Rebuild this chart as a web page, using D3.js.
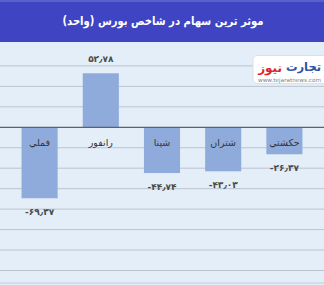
<!DOCTYPE html>
<html lang="fa">
<head>
<meta charset="utf-8">
<script src="https://cdn.jsdelivr.net/npm/d3@7"></script>
<style>
  html, body { margin: 0; padding: 0; background: #e4eef8; }
  svg { display: block; }
  text { font-family: "DejaVu Sans", "Noto Sans", sans-serif; }
</style>
</head>
<body>
<svg id="chart" width="324" height="285"></svg>
<script>
// Stocks (right to left) and their index impact, in units
const categories = ["حکشتي", "شتران", "شپنا", "رانفور", "فملي"];
const values = [-26.37, -43.03, -44.74, 52.78, -69.37];
const gridTicks = [-140, -120, -100, -80, -60, -40, -20, 0, 20, 40, 60];
const title = "موثر ترین سهام در شاخص بورس (واحد)";

const W = 324, H = 285;
const svg = d3.select("#chart");

// Persian digits with the Arabic decimal separator
const faDigits = "۰۱۲۳۴۵۶۷۸۹";
const toFa = v => v.toFixed(2).replace(/\d/g, d => faDigits[+d]).replace(".", "٫");

// plot background
svg.append("rect").attr("x", 0).attr("y", 0).attr("width", W).attr("height", H).attr("fill", "#e4eef8");

const x = d3.scaleBand().domain(categories).range([315, 9]).paddingInner(0.41).paddingOuter(0.205);
const y = d3.scaleLinear().domain([-140, 60]).range([270.5, 65.9]);

// horizontal gridlines
svg.append("g").selectAll("line").data(gridTicks.filter(t => t !== 0)).join("line")
  .attr("x1", 0).attr("x2", W)
  .attr("y1", d => y(d)).attr("y2", d => y(d))
  .attr("stroke", "#bcc4ce").attr("stroke-width", 1);

// bars
svg.append("g").selectAll("rect").data(values).join("rect")
  .attr("x", (d, i) => x(categories[i]))
  .attr("width", x.bandwidth())
  .attr("y", d => y(Math.max(0, d)))
  .attr("height", d => Math.abs(y(d) - y(0)))
  .attr("fill", "#8eabdc");

// zero line
svg.append("line").attr("x1", 0).attr("x2", W).attr("y1", y(0)).attr("y2", y(0))
  .attr("stroke", "#5e6166").attr("stroke-width", 1.3);

// bottom frame line
svg.append("line").attr("x1", 0).attr("x2", W).attr("y1", 283).attr("y2", 283)
  .attr("stroke", "#c4cad2").attr("stroke-width", 1);

// category labels just below the zero line
svg.append("g").selectAll("text").data(categories).join("text")
  .attr("x", d => x(d) + x.bandwidth() / 2)
  .attr("y", y(0) + 15)
  .attr("text-anchor", "middle").attr("dominant-baseline", "central")
  .attr("font-size", 9.5).attr("fill", "#333333")
  .text(d => d);

// value labels
svg.append("g").selectAll("text").data(values).join("text")
  .attr("x", (d, i) => x(categories[i]) + x.bandwidth() / 2)
  .attr("y", d => d >= 0 ? y(d) - 14 : y(d) + 14)
  .attr("text-anchor", "middle").attr("dominant-baseline", "central")
  .attr("direction", "ltr")
  .attr("font-size", 9).attr("font-weight", "bold").attr("fill", "#4a4a4a")
  .text(d => toFa(d));

// header band
svg.append("rect").attr("x", 0).attr("y", 0).attr("width", W).attr("height", 42).attr("fill", "#3e44c2");
svg.append("rect").attr("x", 0).attr("y", 0).attr("width", W).attr("height", 2).attr("fill", "#5a5fca");
svg.append("text").attr("x", 163).attr("y", 21)
  .attr("text-anchor", "middle").attr("dominant-baseline", "central")
  .attr("font-size", 11.5).attr("font-weight", "bold").attr("fill", "#ffffff")
  .attr("textLength", 201).attr("lengthAdjust", "spacingAndGlyphs")
  .text(title);

// brand watermark
const logo = svg.append("g");
logo.append("rect").attr("x", 253).attr("y", 55.5).attr("width", 80).attr("height", 28).attr("rx", 4)
  .attr("fill", "#ffffff").attr("stroke", "#d6dbe2").attr("stroke-width", 0.8);
logo.append("text").attr("x", 282).attr("y", 68).attr("text-anchor", "end").attr("dominant-baseline", "central")
  .attr("font-size", 12).attr("font-weight", "bold").attr("fill", "#d9262b").text("نیوز");
logo.append("text").attr("x", 321).attr("y", 67).attr("text-anchor", "end")
  .attr("dominant-baseline", "central")
  .attr("font-size", 11.5).attr("font-weight", "bold").attr("fill", "#2b55a6").text("تجارت");
logo.append("text").attr("x", 258).attr("y", 79.5).attr("dominant-baseline", "central")
  .attr("font-size", 5.5).attr("fill", "#7a7f86")
  .attr("textLength", 63).attr("lengthAdjust", "spacingAndGlyphs").text("www.tejaratnews.com");
</script>
</body>
</html>
